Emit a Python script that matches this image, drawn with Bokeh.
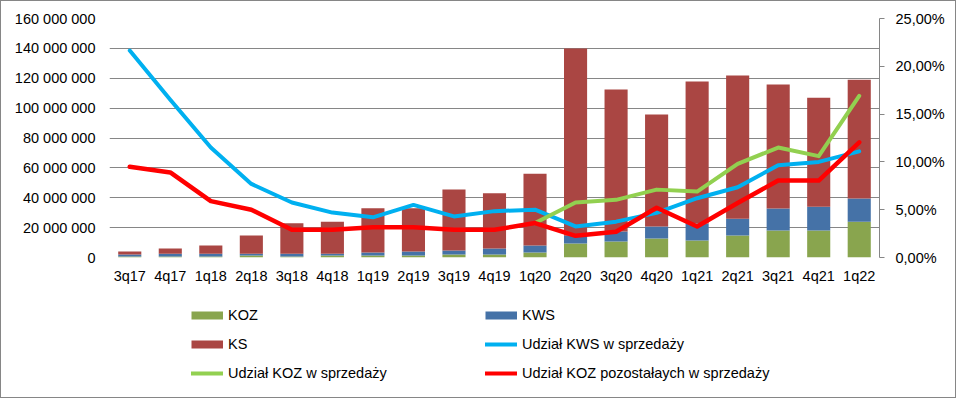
import math
from bokeh.plotting import figure
from bokeh.layouts import column
from bokeh.models import (Range1d, LinearAxis, FixedTicker, CustomJSTickFormatter,
                          Legend, LegendItem, ColumnDataSource)
from bokeh.embed import file_html
from bokeh.resources import INLINE

quarters = ["3q17", "4q17", "1q18", "2q18", "3q18", "4q18", "1q19", "2q19", "3q19", "4q19",
            "1q20", "2q20", "3q20", "4q20", "1q21", "2q21", "3q21", "4q21", "1q22"]

koz = [700000, 700000, 700000, 1300000, 700000, 1300000, 1300000, 1300000, 2000000, 2000000,
       3300000, 9400000, 10700000, 12700000, 11400000, 14700000, 18000000, 18000000, 24000000]
kws = [1300000, 1800000, 1800000, 1200000, 1800000, 1200000, 2000000, 2700000, 2700000, 4000000,
       4700000, 5100000, 6700000, 8000000, 11400000, 11300000, 14800000, 16000000, 15500000]
ks = [2000000, 3500000, 5500000, 12200000, 20500000, 21500000, 29700000, 29000000, 40800000, 37000000,
      48000000, 125500000, 95000000, 75000000, 95000000, 95800000, 83000000, 73000000, 79500000]

share_kws = [21.65, 16.5, 11.5, 7.7, 5.75, 4.7, 4.2, 5.5, 4.3, 4.85,
             5.0, 3.25, 3.75, 4.67, 6.2, 7.35, 9.65, 10.0, 11.1]
share_koz = [math.nan] * 10 + [3.6, 5.75, 6.03, 7.1, 6.9, 9.8, 11.5, 10.6, 16.9]
share_koz_rest = [9.5, 8.9, 5.9, 5.0, 2.9, 2.9, 3.17, 3.17, 2.9, 2.9,
                  3.6, 2.27, 2.7, 5.2, 3.25, 5.7, 8.05, 8.05, 12.05]

left_ticks = [0, 20000000, 40000000, 60000000, 80000000, 100000000, 120000000, 140000000, 160000000]
right_ticks = [0, 5, 10, 15, 20, 25]

FONT = "Liberation Sans"
GRID = "#868686"
C_KOZ, C_KWS, C_KS = "#89A54E", "#4572A7", "#AA4643"
C_LKWS, C_LKOZ, C_LREST = "#00B0F0", "#92D050", "#FF0000"

src = ColumnDataSource(dict(q=quarters, KOZ=koz, KWS=kws, KS=ks,
                            skws=share_kws, skoz=share_koz, srest=share_koz_rest))

p = figure(x_range=quarters, y_range=Range1d(0, 160000000), width=954, height=290,
           output_backend="svg", toolbar_location=None,
           min_border_left=108, min_border_right=76, min_border_top=17, min_border_bottom=34)
p.outline_line_color = None
p.xgrid.grid_line_color = None
p.ygrid.grid_line_color = GRID
p.ygrid.grid_line_width = 1
p.background_fill_color = "white"
p.border_fill_color = "white"

p.yaxis.ticker = FixedTicker(ticks=left_ticks)
p.yaxis.formatter = CustomJSTickFormatter(
    code="return tick.toFixed(0).replace(/\\B(?=(\\d{3})+(?!\\d))/g, ' ');")
p.yaxis.axis_line_color = None
p.yaxis.major_tick_line_color = None
p.yaxis.minor_tick_line_color = None
p.yaxis.major_tick_out = 0
p.yaxis.major_tick_in = 0
p.yaxis.major_label_standoff = 14
p.yaxis.major_label_text_font = FONT
p.yaxis.major_label_text_font_size = "14.5px"
p.yaxis.major_label_text_color = "black"

p.xaxis.axis_line_color = None
p.xaxis.major_tick_line_color = None
p.xaxis.minor_tick_line_color = None
p.xaxis.major_tick_out = 0
p.xaxis.major_tick_in = 0
p.xaxis.major_label_standoff = 10
p.xaxis.major_label_text_font = FONT
p.xaxis.major_label_text_font_size = "14.5px"
p.xaxis.major_label_text_color = "black"
p.x_range.range_padding = 0

p.extra_y_ranges = {"pct": Range1d(0, 25)}
ax2 = LinearAxis(y_range_name="pct", ticker=FixedTicker(ticks=right_ticks),
                 formatter=CustomJSTickFormatter(code="return tick.toFixed(2).replace('.', ',') + '%';"))
ax2.axis_line_color = GRID
ax2.major_tick_line_color = GRID
ax2.minor_tick_line_color = None
ax2.major_tick_out = 5
ax2.major_tick_in = 0
ax2.major_label_standoff = 11
ax2.major_label_text_align = "left"
ax2.major_label_text_font = FONT
ax2.major_label_text_font_size = "14.5px"
ax2.major_label_text_color = "black"
p.add_layout(ax2, "right")

p.vbar_stack(["KOZ", "KWS", "KS"], x="q", width=0.57, source=src,
             color=[C_KOZ, C_KWS, C_KS], line_color=None)

p.line("q", "skws", source=src, y_range_name="pct", line_color=C_LKWS,
       line_width=4, line_join="round", line_cap="round")
p.line("q", "skoz", source=src, y_range_name="pct", line_color=C_LKOZ,
       line_width=4, line_join="round", line_cap="round")
p.line("q", "srest", source=src, y_range_name="pct", line_color=C_LREST,
       line_width=4.5, line_join="round", line_cap="round")

# legend panel (proxy glyphs lie outside the visible range; only their legend swatches show)
lp = figure(width=954, height=106, x_range=Range1d(0, 1), y_range=Range1d(0, 1),
            output_backend="svg", toolbar_location=None, x_axis_type=None, y_axis_type=None,
            min_border_left=0, min_border_right=0, min_border_top=0, min_border_bottom=0)
lp.outline_line_color = None
lp.xgrid.grid_line_color = None
lp.ygrid.grid_line_color = None
lp.border_fill_color = "white"

proxy = ColumnDataSource(dict(x=[5, 6], y=[5, 5]))
g_koz = lp.line(x="x", y="y", source=proxy, line_color=C_KOZ, line_width=8, line_cap="butt")
g_kws = lp.line(x="x", y="y", source=proxy, line_color=C_KWS, line_width=8, line_cap="butt")
g_ks = lp.line(x="x", y="y", source=proxy, line_color=C_KS, line_width=8, line_cap="butt")
g_lkws = lp.line(x="x", y="y", source=proxy, line_color=C_LKWS, line_width=4, line_cap="round")
g_lkoz = lp.line(x="x", y="y", source=proxy, line_color=C_LKOZ, line_width=4, line_cap="round")
g_lrest = lp.line(x="x", y="y", source=proxy, line_color=C_LREST, line_width=4, line_cap="round")

def make_legend(items, loc):
    lg = Legend(items=items, location=loc, orientation="vertical")
    lg.glyph_width = 32
    lg.glyph_height = 16
    lg.label_height = 16
    lg.spacing = 13
    lg.padding = 0
    lg.margin = 0
    lg.label_standoff = 5
    lg.border_line_color = None
    lg.background_fill_alpha = 0
    lg.label_text_font = FONT
    lg.label_text_font_size = "14.5px"
    lg.label_text_color = "black"
    return lg

lg1 = make_legend([LegendItem(label="KOZ", renderers=[g_koz]),
                   LegendItem(label="KS", renderers=[g_ks]),
                   LegendItem(label="Udział KOZ w sprzedaży", renderers=[g_lkoz])], (82, 16))
lg2 = make_legend([LegendItem(label="KWS", renderers=[g_kws]),
                   LegendItem(label="Udział KWS w sprzedaży", renderers=[g_lkws]),
                   LegendItem(label="Udział KOZ pozostałaych w sprzedaży", renderers=[g_lrest])], (376, 16))
lp.add_layout(lg1, "center")
lp.add_layout(lg2, "center")

layout = column(p, lp, spacing=0, styles={"border": "1px solid #868686"})
open("out.html", "w").write(file_html(layout, INLINE))
